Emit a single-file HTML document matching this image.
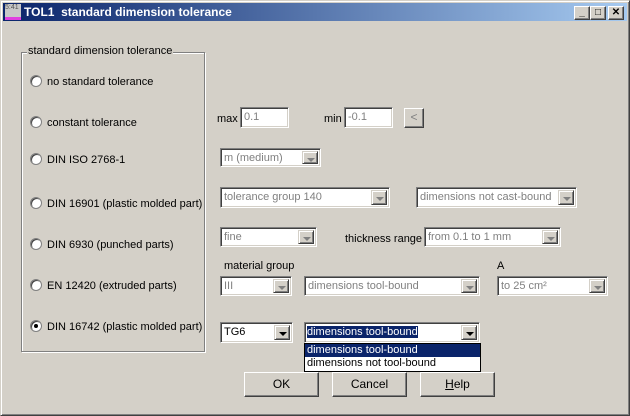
<!DOCTYPE html>
<html><head><meta charset="utf-8">
<style>
*{box-sizing:border-box;margin:0;padding:0}
body{width:630px;height:416px;background:#d4d0c8;font-family:"Liberation Sans",Arial,sans-serif;font-size:11px;color:#000;position:relative;overflow:hidden}
.a{position:absolute}
.win{left:0;top:0;width:630px;height:416px;border-top:1px solid #d4d0c8;border-left:1px solid #d4d0c8;border-right:1px solid #404040;border-bottom:1px solid #404040;box-shadow:inset 1px 1px #fff,inset -1px -1px #808080}
.title{left:3px;top:3px;width:624px;height:18px;background:linear-gradient(90deg,#0a246a,#a6caf0);color:#fff;font-weight:bold;font-size:12px;line-height:18px;padding-left:21px}
.tb{top:6px;width:16px;height:14px;background:#d4d0c8;border-top:1px solid #fff;border-left:1px solid #fff;border-right:1px solid #404040;border-bottom:1px solid #404040;box-shadow:inset -1px -1px #808080;font-size:10px;font-weight:bold;text-align:center;line-height:12px;color:#000}
.grp{left:21px;top:52px;width:184px;height:300px;border:1px solid #808080;box-shadow:1px 1px #fff,inset 1px 1px #fff}
.glab{left:27px;top:45px;background:#d4d0c8;padding:0 1px;line-height:13px}
.rad{width:12px;height:12px;border-radius:50%;background:#fff;border:1px solid #808080;box-shadow:inset 1px 1px #404040}
.rl{line-height:13px}
.edit{background:#fff;border-top:1px solid #808080;border-left:1px solid #808080;border-right:1px solid #fff;border-bottom:1px solid #fff;box-shadow:inset 1px 1px #404040,inset -1px -1px #d4d0c8;color:#808080;padding-left:3px;padding-top:1px;line-height:17px;white-space:nowrap;overflow:hidden}
.en{color:#000}
.arr{position:absolute;right:2px;top:2px;bottom:2px;width:16px;background:#d4d0c8;border-top:1px solid #d4d0c8;border-left:1px solid #d4d0c8;border-right:1px solid #404040;border-bottom:1px solid #404040;box-shadow:inset 1px 1px #fff,inset -1px -1px #808080}
.arr:after{content:"";position:absolute;left:4px;top:6px;border-left:4px solid transparent;border-right:4px solid transparent;border-top:4px solid #808080}
.arr.k:after{border-top-color:#000}
.btn{background:#d4d0c8;border-top:1px solid #fff;border-left:1px solid #fff;border-right:1px solid #404040;border-bottom:1px solid #404040;box-shadow:inset -1px -1px #808080;text-align:center;font-size:12px}
</style></head><body>
<div class="a win"></div>
<div class="a title">TOL1&nbsp; standard dimension tolerance</div>
<div class="a" style="left:5px;top:4px;width:16px;height:16px;background:#c8c8c8;font-size:7px;color:#555;line-height:8px;border-bottom:3px solid #e040e0">5:41</div>
<div class="a tb" style="left:574px">_</div>
<div class="a tb" style="left:590px">□</div>
<div class="a tb" style="left:608px">✕</div>

<div class="a grp"></div>
<div class="a glab">standard dimension tolerance</div>

<div class="a rad" style="left:30px;top:75px"></div><div class="a rl" style="left:47px;top:76px">no standard tolerance</div>
<div class="a rad" style="left:30px;top:116px"></div><div class="a rl" style="left:47px;top:117px">constant tolerance</div>
<div class="a rad" style="left:30px;top:153px"></div><div class="a rl" style="left:47px;top:154px">DIN ISO 2768-1</div>
<div class="a rad" style="left:30px;top:197px"></div><div class="a rl" style="left:47px;top:198px">DIN 16901 (plastic molded part)</div>
<div class="a rad" style="left:30px;top:238px"></div><div class="a rl" style="left:47px;top:239px">DIN 6930 (punched parts)</div>
<div class="a rad" style="left:30px;top:279px"></div><div class="a rl" style="left:47px;top:280px">EN 12420 (extruded parts)</div>
<div class="a rad" style="left:30px;top:320px"></div><div class="a" style="left:34px;top:324px;width:4px;height:4px;background:#000;border-radius:50%"></div><div class="a rl" style="left:47px;top:321px">DIN 16742 (plastic molded part)</div>

<div class="a rl" style="left:217px;top:113px">max</div>
<div class="a edit" style="left:240px;top:107px;width:49px;height:21px">0.1</div>
<div class="a rl" style="left:324px;top:113px">min</div>
<div class="a edit" style="left:344px;top:107px;width:49px;height:21px">-0.1</div>
<div class="a btn" style="left:404px;top:108px;width:20px;height:20px;color:#808080;line-height:17px">&lt;</div>

<div class="a edit" style="left:220px;top:148px;width:101px;height:19px;line-height:16px">m (medium)<div class="arr"></div></div>
<div class="a edit" style="left:220px;top:187px;width:170px;height:21px">tolerance group 140<div class="arr"></div></div>
<div class="a edit" style="left:416px;top:187px;width:161px;height:21px">dimensions not cast-bound<div class="arr"></div></div>
<div class="a edit" style="left:220px;top:227px;width:97px;height:20px">fine<div class="arr"></div></div>
<div class="a rl" style="left:345px;top:233px">thickness range</div>
<div class="a edit" style="left:424px;top:227px;width:137px;height:20px">from 0.1 to 1 mm<div class="arr"></div></div>

<div class="a rl" style="left:224px;top:260px">material group</div>
<div class="a rl" style="left:497px;top:260px">A</div>
<div class="a edit" style="left:220px;top:276px;width:72px;height:20px">III<div class="arr"></div></div>
<div class="a edit" style="left:304px;top:276px;width:176px;height:20px">dimensions tool-bound<div class="arr"></div></div>
<div class="a edit" style="left:497px;top:276px;width:111px;height:20px">to 25 cm²<div class="arr"></div></div>

<div class="a edit en" style="left:220px;top:322px;width:73px;height:21px">TG6<div class="arr k"></div></div>
<div class="a edit en" style="left:304px;top:322px;width:176px;height:21px;padding-left:2px"><span style="background:#0a246a;color:#fff">dimensions tool-bound</span><div class="arr k"></div></div>
<div class="a" style="left:304px;top:343px;width:177px;height:29px;background:#fff;border:1px solid #000">
<div style="background:#0a246a;color:#fff;line-height:13px;padding-left:2px">dimensions tool-bound</div>
<div style="line-height:13px;padding-left:2px">dimensions not tool-bound</div></div>

<div class="a btn" style="left:244px;top:372px;width:75px;height:25px;line-height:22px">OK</div>
<div class="a btn" style="left:332px;top:372px;width:75px;height:25px;line-height:22px">Cancel</div>
<div class="a btn" style="left:420px;top:372px;width:75px;height:25px;line-height:22px"><u>H</u>elp</div>
</body></html>
